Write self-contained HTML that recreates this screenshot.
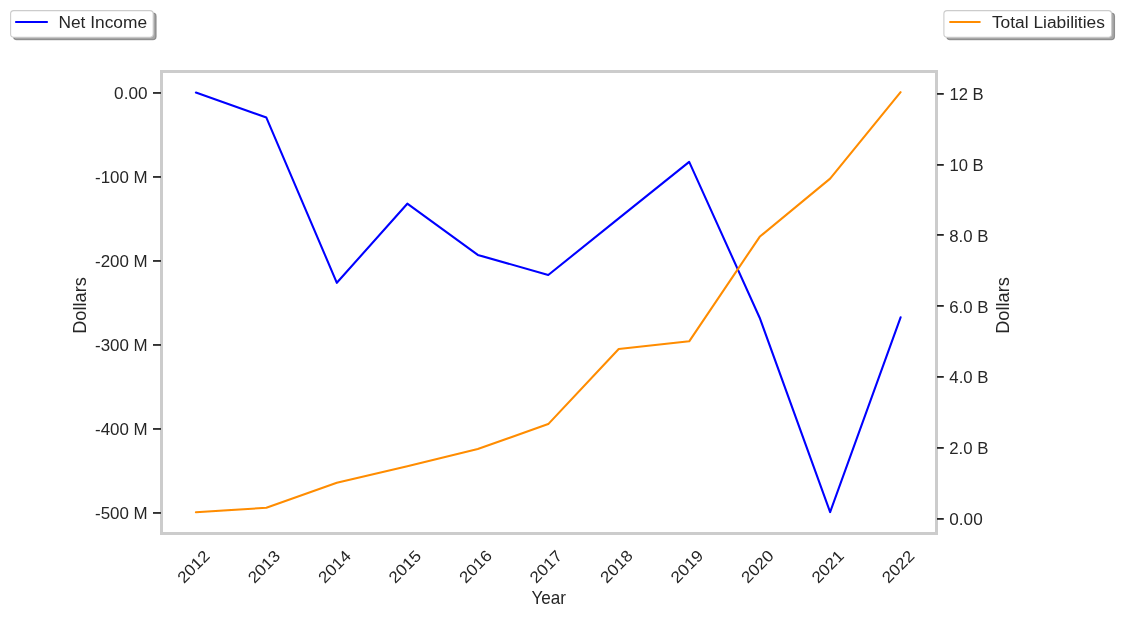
<!DOCTYPE html>
<html><head><meta charset="utf-8"><title>Net Income vs Total Liabilities</title>
<style>html,body{margin:0;padding:0;background:#ffffff;width:1121px;height:618px;overflow:hidden}svg{display:block;will-change:transform}text{font-family:"Liberation Sans",sans-serif}</style>
</head><body>
<svg width="1121" height="618" viewBox="0 0 1121 618" font-family='"Liberation Sans", sans-serif' fill="#262626"><rect x="161.5" y="71.5" width="775.0" height="462.0" fill="none" stroke="#cccccc" stroke-width="3"/>
<line x1="153.0" y1="92.95" x2="161" y2="92.95" stroke="#262626" stroke-width="1.8"/>
<text x="114.12" y="99.00" font-size="16" textLength="33.33" lengthAdjust="spacingAndGlyphs">0.00</text>
<line x1="153.0" y1="176.95" x2="161" y2="176.95" stroke="#262626" stroke-width="1.8"/>
<text x="95.08" y="183.00" font-size="16" textLength="52.61" lengthAdjust="spacingAndGlyphs">-100 M</text>
<line x1="153.0" y1="260.95" x2="161" y2="260.95" stroke="#262626" stroke-width="1.8"/>
<text x="95.08" y="267.00" font-size="16" textLength="52.61" lengthAdjust="spacingAndGlyphs">-200 M</text>
<line x1="153.0" y1="344.95" x2="161" y2="344.95" stroke="#262626" stroke-width="1.8"/>
<text x="95.08" y="351.00" font-size="16" textLength="52.61" lengthAdjust="spacingAndGlyphs">-300 M</text>
<line x1="153.0" y1="428.95" x2="161" y2="428.95" stroke="#262626" stroke-width="1.8"/>
<text x="95.08" y="435.00" font-size="16" textLength="52.61" lengthAdjust="spacingAndGlyphs">-400 M</text>
<line x1="153.0" y1="512.95" x2="161" y2="512.95" stroke="#262626" stroke-width="1.8"/>
<text x="95.08" y="519.00" font-size="16" textLength="52.61" lengthAdjust="spacingAndGlyphs">-500 M</text>
<line x1="937" y1="518.9" x2="943.8" y2="518.9" stroke="#262626" stroke-width="1.8"/>
<text x="949.34" y="525.00" font-size="16" textLength="33.33" lengthAdjust="spacingAndGlyphs">0.00</text>
<line x1="937" y1="447.9" x2="943.8" y2="447.9" stroke="#262626" stroke-width="1.8"/>
<text x="949.28" y="454.00" font-size="16" textLength="39.16" lengthAdjust="spacingAndGlyphs">2.0 B</text>
<line x1="937" y1="376.9" x2="943.8" y2="376.9" stroke="#262626" stroke-width="1.8"/>
<text x="949.36" y="383.00" font-size="16" textLength="39.07" lengthAdjust="spacingAndGlyphs">4.0 B</text>
<line x1="937" y1="305.9" x2="943.8" y2="305.9" stroke="#262626" stroke-width="1.8"/>
<text x="949.21" y="313.00" font-size="16" textLength="39.22" lengthAdjust="spacingAndGlyphs">6.0 B</text>
<line x1="937" y1="234.9" x2="943.8" y2="234.9" stroke="#262626" stroke-width="1.8"/>
<text x="949.31" y="242.00" font-size="16" textLength="39.13" lengthAdjust="spacingAndGlyphs">8.0 B</text>
<line x1="937" y1="164.9" x2="943.8" y2="164.9" stroke="#262626" stroke-width="1.8"/>
<text x="949.41" y="171.00" font-size="16" textLength="34.16" lengthAdjust="spacingAndGlyphs">10 B</text>
<line x1="937" y1="93.9" x2="943.8" y2="93.9" stroke="#262626" stroke-width="1.8"/>
<text x="949.41" y="100.00" font-size="16" textLength="34.16" lengthAdjust="spacingAndGlyphs">12 B</text>
<g transform="translate(194.70,567.6) rotate(-45)"><text x="-19.18" y="3.90" font-size="16" textLength="37.95" lengthAdjust="spacingAndGlyphs">2012</text></g>
<g transform="translate(265.17,567.6) rotate(-45)"><text x="-19.18" y="3.90" font-size="16" textLength="38.15" lengthAdjust="spacingAndGlyphs">2013</text></g>
<g transform="translate(335.64,567.6) rotate(-45)"><text x="-19.19" y="3.90" font-size="16" textLength="38.27" lengthAdjust="spacingAndGlyphs">2014</text></g>
<g transform="translate(406.11,567.6) rotate(-45)"><text x="-19.18" y="3.90" font-size="16" textLength="38.00" lengthAdjust="spacingAndGlyphs">2015</text></g>
<g transform="translate(476.58,567.6) rotate(-45)"><text x="-19.19" y="3.90" font-size="16" textLength="38.43" lengthAdjust="spacingAndGlyphs">2016</text></g>
<g transform="translate(547.05,567.6) rotate(-45)"><text x="-19.18" y="3.90" font-size="16" textLength="38.18" lengthAdjust="spacingAndGlyphs">2017</text></g>
<g transform="translate(617.52,567.6) rotate(-45)"><text x="-19.19" y="3.90" font-size="16" textLength="38.33" lengthAdjust="spacingAndGlyphs">2018</text></g>
<g transform="translate(687.99,567.6) rotate(-45)"><text x="-19.19" y="3.90" font-size="16" textLength="38.37" lengthAdjust="spacingAndGlyphs">2019</text></g>
<g transform="translate(758.46,567.6) rotate(-45)"><text x="-19.19" y="3.90" font-size="16" textLength="38.29" lengthAdjust="spacingAndGlyphs">2020</text></g>
<g transform="translate(828.93,567.6) rotate(-45)"><text x="-19.18" y="3.90" font-size="16" textLength="38.05" lengthAdjust="spacingAndGlyphs">2021</text></g>
<g transform="translate(899.40,567.6) rotate(-45)"><text x="-19.18" y="3.90" font-size="16" textLength="37.95" lengthAdjust="spacingAndGlyphs">2022</text></g>
<text x="531.54" y="603.70" font-size="18.2" textLength="34.53" lengthAdjust="spacingAndGlyphs">Year</text>
<g transform="translate(86.3,305.0) rotate(-90)"><text x="-28.80" y="0.00" font-size="18.2" textLength="56.76" lengthAdjust="spacingAndGlyphs">Dollars</text></g>
<g transform="translate(1009.25,305.0) rotate(-90)"><text x="-28.80" y="0.00" font-size="18.2" textLength="56.76" lengthAdjust="spacingAndGlyphs">Dollars</text></g>
<polyline points="195.90,92.60 266.37,117.60 336.84,282.80 407.31,203.70 477.78,254.90 548.25,275.00 618.72,218.40 689.19,161.90 759.66,317.70 830.13,512.10 900.60,317.35" fill="none" stroke="#0000ff" stroke-width="2.08" stroke-linejoin="round" stroke-linecap="round"/>
<polyline points="195.90,512.20 266.37,507.80 336.84,482.80 407.31,466.20 477.78,449.10 548.25,424.10 618.72,349.00 689.19,341.30 759.66,236.80 830.13,178.60 900.60,92.20" fill="none" stroke="#ff8c00" stroke-width="2.08" stroke-linejoin="round" stroke-linecap="round"/>
<path d="M16.70,13.00H152.90Q156.10,13.00 156.10,16.20V36.40Q156.10,39.60 152.90,39.60H16.70Q13.50,39.60 13.50,36.40V16.20Q13.50,13.00 16.70,13.00Z" fill="rgba(77,77,77,0.5)" stroke="rgba(77,77,77,0.5)" stroke-width="1.11"/><path d="M13.80,10.60H150.00Q153.20,10.60 153.20,13.80V34.00Q153.20,37.20 150.00,37.20H13.80Q10.60,37.20 10.60,34.00V13.80Q10.60,10.60 13.80,10.60Z" fill="#ffffff" stroke="#cccccc" stroke-width="1.11"/><line x1="15.94" y1="21.95" x2="47.06" y2="21.95" stroke="#0000ff" stroke-width="2.08" stroke-linecap="round"/><text x="58.48" y="27.80" font-size="16" textLength="88.59" lengthAdjust="spacingAndGlyphs">Net Income</text>
<path d="M950.00,13.00H1111.30Q1114.50,13.00 1114.50,16.20V36.40Q1114.50,39.60 1111.30,39.60H950.00Q946.80,39.60 946.80,36.40V16.20Q946.80,13.00 950.00,13.00Z" fill="rgba(77,77,77,0.5)" stroke="rgba(77,77,77,0.5)" stroke-width="1.11"/><path d="M947.10,10.60H1108.40Q1111.60,10.60 1111.60,13.80V34.00Q1111.60,37.20 1108.40,37.20H947.10Q943.90,37.20 943.90,34.00V13.80Q943.90,10.60 947.10,10.60Z" fill="#ffffff" stroke="#cccccc" stroke-width="1.11"/><line x1="950.1" y1="21.95" x2="979.8" y2="21.95" stroke="#ff8c00" stroke-width="2.08" stroke-linecap="round"/><text x="991.92" y="27.80" font-size="16" textLength="113.00" lengthAdjust="spacingAndGlyphs">Total Liabilities</text></svg>
</body></html>
